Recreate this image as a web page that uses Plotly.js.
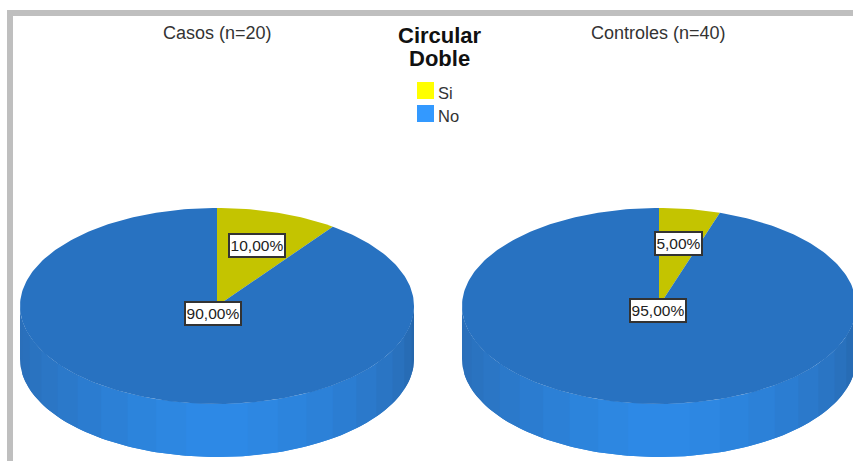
<!DOCTYPE html>
<html>
<head>
<meta charset="utf-8">
<script src="https://cdn.plot.ly/plotly-3.0.1.min.js"></script>
<style>html,body{margin:0;padding:0;background:#fff;overflow:hidden}</style>
</head>
<body>
<div id="chart" style="width:853px;height:461px"></div>
<script>
// Share of each answer per group, in percent
const categories = ['Si', 'No'];
const casosPct = [10, 90];
const controlesPct = [5, 95];
const groupTitles = ['Casos (n=20)', 'Controles (n=40)'];
const legendTitle = ['Circular', 'Doble'];

// Colours
const topColors = {Si: '#c4c400', No: '#2872c1'};
const swatchColors = {Si: '#ffff00', No: '#3399ff'};
const rimColors = ['#2a6fba','#2a70bc','#2a73c0','#2b76c5','#2b79ca','#2b7cd0','#2c80d6','#2c84dc','#2d87e1','#2d89e6',
                   '#2d89e6','#2d87e2','#2c84dd','#2c81d8','#2b7dd2','#2b79cb','#2a75c4','#2971bd','#276cb5','#2567ad'];

// Disc geometry on a pixel-sized axis pair
const RX = 197, RY = 98, DEPTH = 53, CY = 306;
const pies = [
  {cx: 217, values: casosPct, title: groupTitles[0], titleX: 217,
   labelPos: [[257, 245.5], [213, 313.5]]},
  {cx: 659, values: controlesPct, title: groupTitles[1], titleX: 658.5,
   labelPos: [[678.5, 243], [657.5, 310.5]]}
];

const traces = [];
const annotations = [];

function polygon(xs, ys, color) {
  traces.push({type: 'scatter', mode: 'lines', x: xs, y: ys, fill: 'toself', fillcolor: color,
               line: {width: 0, color: color}, hoverinfo: 'skip', showlegend: false});
}

function percentText(v) {
  return v.toFixed(2).replace('.', ',') + '%';
}

function drawRim(cx) {
  const n = rimColors.length;
  rimColors.forEach((color, i) => {
    // Each band overlaps the next one so no seam shows between fills
    const a0 = Math.PI - (i / n) * Math.PI;
    const a1 = Math.max(0, Math.PI - ((i + 2) / n) * Math.PI);
    const xs = [], ys = [];
    for (let k = 0; k <= 12; k++) {
      const a = a0 + (a1 - a0) * k / 12;
      xs.push(cx + RX * Math.cos(a));
      ys.push(CY + RY * Math.sin(a));
    }
    for (let k = 12; k >= 0; k--) {
      const a = a0 + (a1 - a0) * k / 12;
      xs.push(cx + RX * Math.cos(a));
      ys.push(CY + DEPTH + RY * Math.sin(a));
    }
    polygon(xs, ys, color);
  });
}

function drawTop(pie) {
  // Slices start at twelve o'clock and run clockwise
  let start = 0;
  const total = pie.values.reduce((s, v) => s + v, 0);
  pie.values.forEach((v, i) => {
    const end = start + v / total * 2 * Math.PI;
    const xs = [pie.cx], ys = [CY];
    const steps = Math.max(8, Math.round(v * 3));
    for (let k = 0; k <= steps; k++) {
      const a = start + (end - start) * k / steps;
      xs.push(pie.cx + RX * Math.sin(a));
      ys.push(CY - RY * Math.cos(a));
    }
    xs.push(pie.cx); ys.push(CY);
    polygon(xs, ys, topColors[categories[i]]);
    start = end;
  });
}

pies.forEach(pie => {
  drawRim(pie.cx);
  drawTop(pie);
  annotations.push({x: pie.titleX, y: 33, xref: 'x', yref: 'y', text: pie.title, showarrow: false,
                    font: {family: 'Liberation Sans, Arial, sans-serif', size: 18, color: '#333'}});
  pie.values.forEach((v, i) => {
    annotations.push({x: pie.labelPos[i][0], y: pie.labelPos[i][1], xref: 'x', yref: 'y',
                      text: percentText(v), showarrow: false,
                      width: v === 5 ? 45 : 54, height: 21, bgcolor: '#fff', bordercolor: '#333', borderwidth: 2, borderpad: 0,
                      font: {family: 'Liberation Sans, Arial, sans-serif', size: 15.5, color: '#222'}});
  });
});

// Legend heading and entries
legendTitle.forEach((line, i) => {
  annotations.push({x: 439.5, y: 35 + i * 23, xref: 'x', yref: 'y', text: '<b>' + line + '</b>', showarrow: false,
                    font: {family: 'Liberation Sans, Arial, sans-serif', size: 22, color: '#111'}});
});
const shapes = [
  {type: 'rect', xref: 'x', yref: 'y', x0: 10, y0: 13, x1: 900, y1: 500,
   line: {color: '#bfbfbf', width: 6}, fillcolor: 'rgba(0,0,0,0)', layer: 'below'}
];
categories.forEach((cat, i) => {
  const top = 82 + i * 23;
  shapes.push({type: 'rect', xref: 'x', yref: 'y', x0: 417, x1: 434, y0: top, y1: top + 17,
               line: {width: 0}, fillcolor: swatchColors[cat]});
  annotations.push({x: 435.5, y: top + 10.5, xref: 'x', yref: 'y', xanchor: 'left', text: cat, showarrow: false,
                    font: {family: 'Liberation Sans, Arial, sans-serif', size: 16.5, color: '#333'}});
});

const hiddenAxis = {visible: false, fixedrange: true, showgrid: false, zeroline: false};
Plotly.newPlot('chart', traces, {
  width: 853, height: 461,
  margin: {l: 0, r: 0, t: 0, b: 0},
  paper_bgcolor: '#fff', plot_bgcolor: '#fff',
  showlegend: false,
  xaxis: Object.assign({range: [0, 853]}, hiddenAxis),
  yaxis: Object.assign({range: [461, 0]}, hiddenAxis),
  shapes: shapes,
  annotations: annotations
}, {displayModeBar: false, staticPlot: true});
</script>
</body>
</html>
